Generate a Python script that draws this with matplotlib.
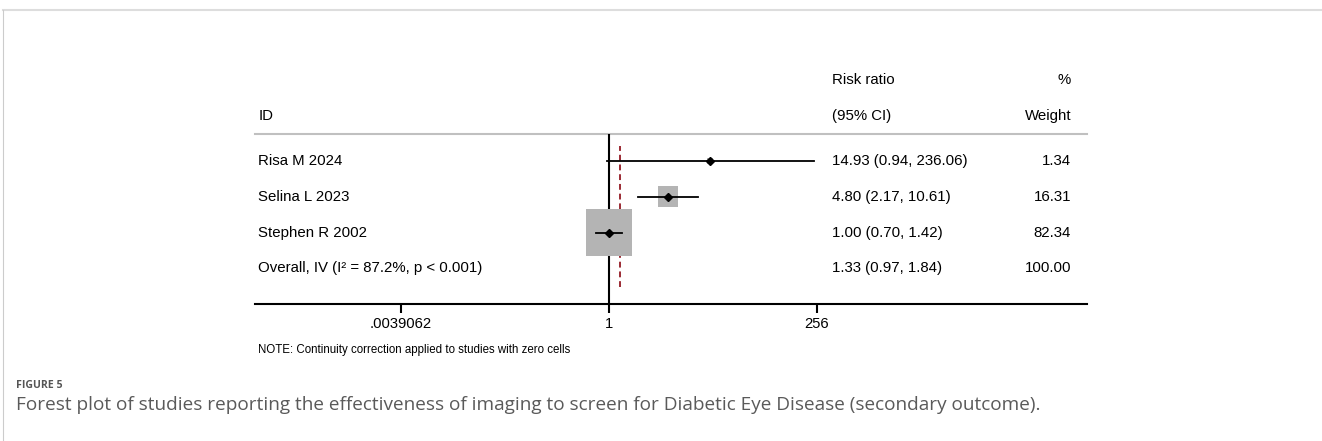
import matplotlib
matplotlib.use('Agg')
import matplotlib.pyplot as plt
from matplotlib.lines import Line2D
import matplotlib.ticker as mticker

# study rows of the forest plot
study_ids = ['Risa M 2024', 'Selina L 2023', 'Stephen R 2002']
risk_ratio = [14.93, 4.80, 1.00]
ci_low = [0.94, 2.17, 0.70]
ci_high = [236.06, 10.61, 1.42]
weight = [1.34, 16.31, 82.34]

overall_label = 'Overall, IV (I\u00b2 = 87.2%, p < 0.001)'
overall_rr = 1.33
overall_low = 0.97
overall_high = 1.84
overall_weight = 100.00

tick_values = [2 ** -8, 1, 256]
tick_labels = ['.0039062', '1', '256']

W, H = 1322, 441
plt.rcParams['font.family'] = ['Liberation Sans', 'DejaVu Sans']

fig = plt.figure(figsize=(W / 100, H / 100), dpi=100)

# axes covers the table area: x 255..1087 px, y 134..304 px
ax = fig.add_axes([255 / W, 1 - 304 / H, 832 / W, 170 / H])
ax.set_xscale('log', base=2)
px_per_unit = 26.0
ax.set_xlim(2 ** ((255 - 609) / px_per_unit), 2 ** ((1087 - 609) / px_per_unit))
ax.set_ylim(4.0, -0.756)

for s in ['left', 'right', 'top']:
    ax.spines[s].set_visible(False)
ax.spines['bottom'].set_linewidth(1.5)
ax.set_yticks([])
ax.xaxis.set_major_locator(mticker.FixedLocator(tick_values))
ax.xaxis.set_minor_locator(mticker.NullLocator())
ax.set_xticklabels(tick_labels)
ax.tick_params(axis='x', length=6.5, width=1.5, pad=3, labelsize=10.6)

# header separator and null line
ax.axhline(-0.756, color='#c0c0c0', lw=1.5, clip_on=False)
ax.axvline(1, color='black', lw=1.5)
ax.axvline(overall_rr, ymin=0.1, ymax=0.93, color='#9b2a33', lw=1.4, ls=(0, (3, 2)))

rows = list(range(len(study_ids)))
ax.scatter(risk_ratio, rows, s=[w * 13.5 for w in weight], marker='s',
           color='#b4b4b4', linewidths=0, zorder=2)
for i in rows:
    ax.plot([ci_low[i], ci_high[i]], [i, i], color='black', lw=1.3, zorder=3)
ax.plot(risk_ratio, rows, ls='none', marker='D', ms=3.6, color='black', zorder=4)

tr = ax.get_yaxis_transform()
fs = 10.8
h1, h2 = -2.27, -1.26
ax.text(0.004, h2, 'ID', transform=tr, fontsize=fs, va='center')
ax.text(0.6935, h1, 'Risk ratio', transform=tr, fontsize=fs, va='center')
ax.text(0.6935, h2, '(95% CI)', transform=tr, fontsize=fs, va='center')
ax.text(0.981, h1, '%', transform=tr, fontsize=fs, va='center', ha='right')
ax.text(0.981, h2, 'Weight', transform=tr, fontsize=fs, va='center', ha='right')

for i in rows:
    ax.text(0.004, i, study_ids[i], transform=tr, fontsize=fs, va='center')
    ax.text(0.6935, i, f'{risk_ratio[i]:.2f} ({ci_low[i]:.2f}, {ci_high[i]:.2f})',
            transform=tr, fontsize=fs, va='center')
    ax.text(0.981, i, f'{weight[i]:.2f}', transform=tr, fontsize=fs, va='center', ha='right')

n = len(study_ids)
ax.text(0.004, n, overall_label, transform=tr, fontsize=fs, va='center')
ax.text(0.6935, n, f'{overall_rr:.2f} ({overall_low:.2f}, {overall_high:.2f})',
        transform=tr, fontsize=fs, va='center')
ax.text(0.981, n, f'{overall_weight:.2f}', transform=tr, fontsize=fs, va='center', ha='right')

ax.text(0.004, 5.3, 'NOTE: Continuity correction applied to studies with zero cells',
        transform=tr, fontsize=8.3, va='center')

# caption block
fig.text(16 / W, 1 - 385 / H, 'FIGURE 5', fontsize=7.6, fontweight='bold',
         color='#555555', family='Open Sans', va='center')
fig.text(16 / W, 1 - 405 / H,
         'Forest plot of studies reporting the effectiveness of imaging to screen for '
         'Diabetic Eye Disease (secondary outcome).',
         fontsize=13.7, color='#5a5a5a', family='Open Sans', va='center')

# page frame
fig.add_artist(Line2D([3 / W, 1], [1 - 10 / H, 1 - 10 / H], transform=fig.transFigure,
                      color='#dddddd', lw=1.5))
fig.add_artist(Line2D([3 / W, 3 / W], [1 - 10 / H, 0], transform=fig.transFigure,
                      color='#cccccc', lw=0.8))

fig.savefig('out.png', dpi=100)
